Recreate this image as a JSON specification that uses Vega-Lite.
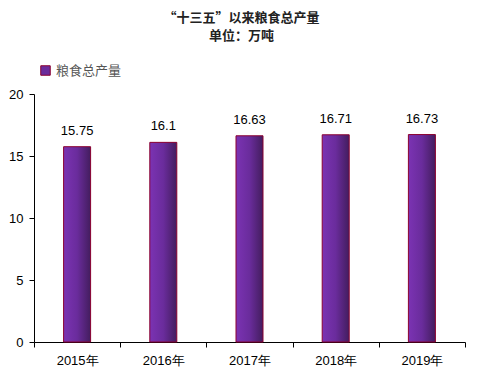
{
  "$schema": "https://vega.github.io/schema/vega-lite/v6.json",
  "autosize": "none",
  "width": 431,
  "height": 248,
  "padding": {"left": 34, "top": 94, "right": 15, "bottom": 36},
  "background": "white",
  "title": {
    "text": "“十三五”以来粮食总产量",
    "subtitle": "单位：万吨",
    "anchor": "middle",
    "frame": "group",
    "dx": -8,
    "offset": 21,
    "font": "Noto Sans CJK SC",
    "fontSize": 13,
    "fontWeight": "bold",
    "color": "#222222",
    "subtitleFont": "Noto Sans CJK SC",
    "subtitleFontSize": 13,
    "subtitleFontWeight": "bold",
    "subtitleColor": "#222222",
    "subtitlePadding": 5
  },
  "config": {
    "view": {"stroke": null},
    "font": "Liberation Sans"
  },
  "data": {
    "values": [
      {"year": "2015年", "value": 15.75, "series": "粮食总产量"},
      {"year": "2016年", "value": 16.1, "series": "粮食总产量"},
      {"year": "2017年", "value": 16.63, "series": "粮食总产量"},
      {"year": "2018年", "value": 16.71, "series": "粮食总产量"},
      {"year": "2019年", "value": 16.73, "series": "粮食总产量"}
    ]
  },
  "encoding": {
    "x": {
      "field": "year",
      "type": "nominal",
      "scale": {"paddingInner": 0, "paddingOuter": 0},
      "axis": {
        "title": null,
        "labelAngle": 0,
        "labelFont": "Liberation Sans",
        "labelFontSize": 13,
        "labelColor": "#000000",
        "labelPadding": 7,
        "domainColor": "#000000",
        "tickColor": "#000000",
        "tickBand": "extent",
        "tickSize": 5,
        "grid": false
      }
    },
    "y": {
      "field": "value",
      "type": "quantitative",
      "scale": {"domain": [0, 20]},
      "axis": {
        "title": null,
        "values": [0, 5, 10, 15, 20],
        "labelFont": "Liberation Sans",
        "labelFontSize": 13,
        "labelColor": "#000000",
        "labelPadding": 6,
        "domainColor": "#000000",
        "tickColor": "#000000",
        "tickSize": 5,
        "grid": false
      }
    }
  },
  "layer": [
    {
      "mark": {
        "type": "bar",
        "width": 27,
        "stroke": "#8B0030",
        "strokeWidth": 1,
        "fill": {
          "gradient": "linear",
          "x1": 0, "x2": 1, "y1": 0, "y2": 0,
          "stops": [
            {"offset": 0, "color": "#7B33B3"},
            {"offset": 0.5, "color": "#6A2C9C"},
            {"offset": 1, "color": "#431D5E"}
          ]
        }
      },
      "encoding": {
        "color": {
          "field": "series",
          "type": "nominal",
          "scale": {"range": ["#6A2C9C"]},
          "legend": {
            "title": null,
            "orient": "none",
            "legendX": 5,
            "legendY": -30,
            "symbolType": "square",
            "symbolSize": 90,
            "symbolStrokeColor": "#8B0030",
            "symbolStrokeWidth": 1,
            "labelFont": "Noto Sans CJK SC",
            "labelFontSize": 13,
            "labelColor": "#555555"
          }
        }
      }
    },
    {
      "mark": {
        "type": "text",
        "baseline": "bottom",
        "dy": -9,
        "font": "Liberation Sans",
        "fontSize": 13,
        "color": "#000000"
      },
      "encoding": {
        "text": {"field": "value", "type": "quantitative"}
      }
    }
  ]
}
